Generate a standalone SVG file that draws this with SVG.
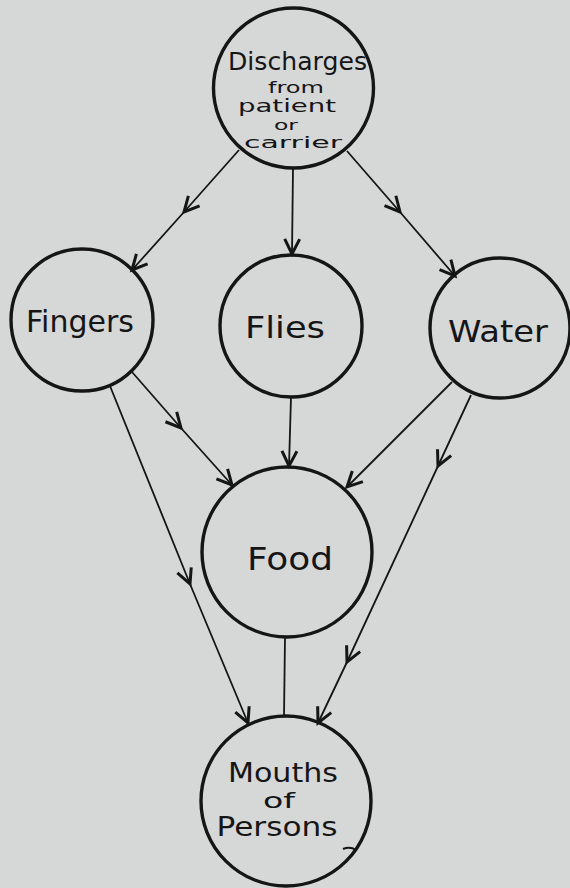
<svg xmlns="http://www.w3.org/2000/svg" width="570" height="888" viewBox="0 0 570 888">
<defs>
<style>
.bg{fill:#d6d8d8}
.node circle{fill:none;stroke:#151515;stroke-width:3.4}
.node text{font-family:"DejaVu Sans","Liberation Sans",sans-serif;fill:#151515;text-anchor:middle}
.conn polyline{fill:none;stroke:#151515;stroke-width:1.8}
.arr{marker-end:url(#ah)}
.mid{marker-mid:url(#ah)}
</style>
<marker id="ah" markerUnits="userSpaceOnUse" markerWidth="24" markerHeight="24" viewBox="-14 -8 16 16" refX="0" refY="0" orient="auto" overflow="visible">
<path d="M-10,-5 L0,0 L-10,5" fill="none" stroke="#151515" stroke-width="2"/>
</marker>
</defs>
<rect class="bg" x="0" y="0" width="570" height="888"/>
<g id="connectors" class="conn">
<polyline class="arr mid" points="239,150 184,212 132,270"/>
<polyline class="arr" points="293,168 292,254"/>
<polyline class="arr mid" points="347,151 400,212 455,276"/>
<polyline class="arr mid" points="132,372 181,428 232,485"/>
<polyline class="arr" points="291,397 289,466"/>
<polyline class="arr" points="452,382 347,487"/>
<polyline class="arr mid" points="110,386 190,584 248,723"/>
<polyline class="arr mid" points="471,395 438,466 347,662 318,723"/>
<polyline points="285,637 284,717"/>
</g>
<g id="discharges" class="node">
<circle cx="293.5" cy="88" r="80"/>
<text><tspan x="297.5" y="70" font-size="24" textLength="139" lengthAdjust="spacingAndGlyphs">Discharges</tspan><tspan x="296" y="93" font-size="16" textLength="56" lengthAdjust="spacingAndGlyphs">from</tspan><tspan x="287" y="112" font-size="17" textLength="98" lengthAdjust="spacingAndGlyphs">patient</tspan><tspan x="286" y="130" font-size="14" textLength="24" lengthAdjust="spacingAndGlyphs">or</tspan><tspan x="293" y="148" font-size="15.5" textLength="98" lengthAdjust="spacingAndGlyphs">carrier</tspan></text>
</g>
<g id="fingers" class="node">
<circle cx="82" cy="320" r="71"/>
<text x="80" y="332" font-size="30" textLength="108" lengthAdjust="spacingAndGlyphs">Fingers</text>
</g>
<g id="flies" class="node">
<circle cx="291" cy="326" r="71"/>
<text x="285" y="338" font-size="30" textLength="80" lengthAdjust="spacingAndGlyphs">Flies</text>
</g>
<g id="water" class="node">
<circle cx="500" cy="328" r="70"/>
<text x="498" y="342" font-size="30" textLength="100" lengthAdjust="spacingAndGlyphs">Water</text>
</g>
<g id="food" class="node">
<circle cx="287" cy="552" r="85"/>
<text x="290" y="570" font-size="32" textLength="86" lengthAdjust="spacingAndGlyphs">Food</text>
</g>
<g id="mouths" class="node">
<circle cx="286" cy="801" r="85"/>
<text><tspan x="283" y="782" font-size="26" textLength="110" lengthAdjust="spacingAndGlyphs">Mouths</tspan><tspan x="279" y="808" font-size="22" textLength="32" lengthAdjust="spacingAndGlyphs">of</tspan><tspan x="277" y="836" font-size="26" textLength="121" lengthAdjust="spacingAndGlyphs">Persons</tspan></text>
<path d="M343,849 Q350,846 356,850 L352,855" fill="none" stroke="#151515" stroke-width="2"/>
</g>
</svg>
